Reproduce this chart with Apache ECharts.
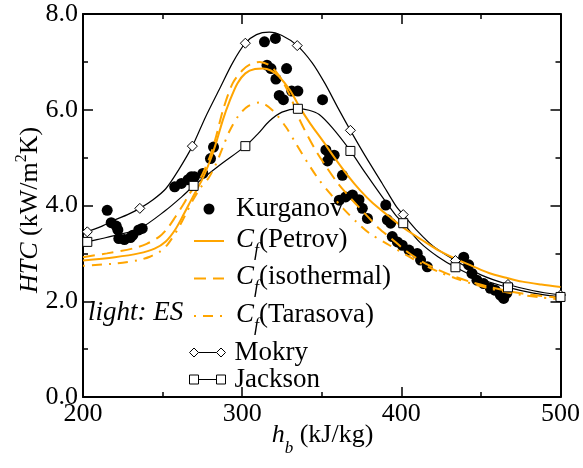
<!DOCTYPE html>
<html>
<head>
<meta charset="utf-8">
<script src="https://cdn.jsdelivr.net/npm/echarts@6/dist/echarts.min.js"></script>
<style>
  html, body { margin: 0; padding: 0; background: #fff; }
  #chart { width: 583px; height: 468px; }
</style>
</head>
<body>
<div id="chart"></div>
<script>
// measured points, x = h_b (kJ/kg), y = HTC (kW/m2K)
var kurganov = [
  [215.2, 3.90], [217.7, 3.64], [220.9, 3.57], [221.9, 3.49], [222.5, 3.31], [226, 3.29],
  [229.8, 3.33], [231.3, 3.38], [235, 3.49], [237.2, 3.52],
  [257.6, 4.39], [261.8, 4.46], [266, 4.54], [268, 4.60], [270, 4.60], [275.3, 4.67],
  [280.1, 4.98], [282, 5.22],
  [314, 7.42], [320.9, 7.49], [315.6, 6.93], [318.1, 6.86], [327.9, 6.86], [321.2, 6.64],
  [323.3, 6.30], [325.9, 6.21], [331.1, 6.39], [335, 6.39], [350.5, 6.21],
  [352.6, 5.16], [355, 5.04], [357.8, 5.05], [353.6, 4.93], [363, 4.63], [361, 4.11],
  [365, 4.18], [369.3, 4.22], [373.4, 4.12], [375.5, 3.94], [378.7, 3.73], [390.2, 4.01],
  [391.2, 3.70], [393.3, 3.63], [394.3, 3.35], [397.5, 3.24], [400.6, 3.17], [404.8, 3.07],
  [410, 3.00], [412.1, 2.86], [416.3, 2.72],
  [439.2, 2.92], [442.3, 2.76], [444.4, 2.58], [447.5, 2.44], [451.7, 2.37], [455.9, 2.27],
  [459, 2.23], [462.2, 2.13], [464.3, 2.06], [466.3, 2.17]
];

var petrov = [
  [200, 2.85], [220, 2.92], [235, 3.00], [245, 3.10], [252, 3.25], [258, 3.50], [263, 3.80],
  [269, 4.18], [275, 4.55], [280, 4.95], [284, 5.35], [288, 5.80], [292, 6.17], [297, 6.55],
  [302, 6.76], [308, 6.85], [313, 6.86], [318, 6.82], [323, 6.70], [330, 6.41], [336, 6.06],
  [343, 5.70], [350, 5.38], [358, 5.00], [366, 4.64], [374, 4.32], [382, 4.05], [392, 3.78],
  [402, 3.52], [413, 3.28], [423, 3.07], [434, 2.89], [445, 2.73], [455, 2.59], [466, 2.49],
  [476, 2.41], [488, 2.35], [500, 2.30]
];

var isothermal = [
  [200, 2.92], [215, 3.00], [231, 3.10], [240, 3.20], [248, 3.35], [253, 3.52], [258, 3.76],
  [263, 4.02], [267, 4.25], [271, 4.42], [275, 4.65], [279.5, 5.00], [283.7, 5.45], [288, 6.00],
  [294, 6.55], [300, 6.82], [305, 6.95], [311, 7.00], [317, 6.93], [323, 6.72], [330, 6.30],
  [336, 5.80], [345, 5.22], [352, 4.85], [360, 4.47], [369, 4.12], [378, 3.80], [386, 3.52],
  [393, 3.33], [403, 3.05], [413, 2.83], [423, 2.66], [434, 2.51], [445, 2.39], [455, 2.30],
  [466, 2.22], [476, 2.16], [488, 2.11], [500, 2.07]
];

var tarasova = [
  [200, 2.74], [221, 2.79], [235, 2.86], [242, 2.93], [248, 3.03], [252, 3.14], [256, 3.32],
  [260.5, 3.56], [265, 3.85], [269, 4.11], [274, 4.38], [279, 4.58], [284, 4.90], [288, 5.23],
  [292, 5.55], [298, 5.89], [304, 6.08], [311, 6.15], [319, 5.99], [327.5, 5.64], [334, 5.28],
  [341, 4.90], [348, 4.55], [356, 4.22], [364, 3.92], [372, 3.65], [380, 3.42], [392, 3.18],
  [403, 2.97], [413, 2.78], [423, 2.62], [434, 2.48], [445, 2.36], [455, 2.27], [466, 2.19],
  [476, 2.13], [488, 2.08], [500, 2.04]
];

var mokry = [
  [200, 3.40], [202.7, 3.45], [212, 3.57], [220, 3.70], [228, 3.81], [235.7, 3.94], [244, 4.12],
  [252, 4.35], [260, 4.74], [268.7, 5.24], [277, 5.85], [286, 6.45], [294, 6.98], [302, 7.39],
  [309, 7.57], [317, 7.62], [325, 7.55], [334.6, 7.34], [344, 6.98], [352, 6.55], [360, 6.05],
  [368, 5.57], [377.6, 5.02], [388, 4.46], [397, 3.97], [401.2, 3.81], [410, 3.47], [420, 3.15],
  [434, 2.85], [450, 2.55], [467, 2.35], [483, 2.22], [500, 2.13]
];
var mokryMarks = [
  [202.7, 3.45], [235.7, 3.94], [268.7, 5.24], [302, 7.39], [334.6, 7.34],
  [368, 5.57], [401.2, 3.81], [434, 2.85], [467, 2.35], [500, 2.13]
];

var jackson = [
  [200, 3.20], [202.7, 3.24], [212, 3.31], [220.9, 3.38], [235.7, 3.52], [252, 3.90], [262, 4.18],
  [269.5, 4.41], [285, 4.82], [302, 5.24], [310, 5.50], [317, 5.76], [325, 5.95], [335, 6.02],
  [342, 5.99], [348.4, 5.90], [356.7, 5.62], [368, 5.14], [377.6, 4.67], [388, 4.18],
  [396.4, 3.80], [401.2, 3.63], [412, 3.22], [423, 2.93], [434, 2.71], [450, 2.46],
  [467, 2.29], [483, 2.17], [500, 2.09]
];
var jacksonMarks = [
  [202.7, 3.24], [269.5, 4.41], [302, 5.24], [335, 6.02],
  [368, 5.14], [401.2, 3.63], [434, 2.71], [467, 2.29], [500, 2.09]
];

var ORANGE = "#FFA500";
var FONT = "Liberation Serif";
var FS = 27;

var chart = echarts.init(document.getElementById("chart"));

function axisCommon() {
  return {
    axisLine: { show: true, onZero: false, lineStyle: { color: "#000", width: 2 } },
    axisTick: { show: true, inside: true, length: 10, lineStyle: { color: "#000", width: 1.5 } },
    minorTick: { show: true, splitNumber: 2, length: 5, lineStyle: { color: "#000", width: 1.5 } },
    splitLine: { show: false },
    minorSplitLine: { show: false }
  };
}

// tick labels go through a rich token so the serif face is kept
var tickRich = { a: { fontFamily: FONT, fontSize: 26, color: "#000" } };

var xBottom = Object.assign(axisCommon(), {
  type: "value", position: "bottom", min: 200, max: 500, interval: 100,
  axisLabel: {
    color: "#000", fontFamily: FONT, fontSize: 26, margin: 4, rich: tickRich,
    formatter: function (v) { return "{a|" + v + "}"; }
  }
});
var xTop = Object.assign(axisCommon(), {
  type: "value", position: "top", min: 200, max: 500, interval: 100,
  axisLabel: { show: false }
});
var yLeft = Object.assign(axisCommon(), {
  type: "value", position: "left", min: 0, max: 8, interval: 2,
  axisLabel: {
    color: "#000", fontFamily: FONT, fontSize: 26, margin: 5, rich: tickRich,
    formatter: function (v) { return "{a|" + v.toFixed(1) + "}"; }
  }
});
var yRight = Object.assign(axisCommon(), {
  type: "value", position: "right", min: 0, max: 8, interval: 2,
  axisLabel: { show: false }
});

function curve(name, data, color, width, type, z) {
  return {
    name: name, type: "line", data: data, smooth: 0.3, symbol: "none",
    lineStyle: { color: color, width: width, type: type },
    itemStyle: { color: color },
    z: z
  };
}

function marks(name, data, symbol, size) {
  return {
    name: name, type: "scatter", data: data, symbol: symbol, symbolSize: size,
    itemStyle: { color: "#fff", borderColor: "#000", borderWidth: 1, opacity: 1 },
    z: 6
  };
}

// hides the little symbol that line series put in the middle of their legend icon
var noDot = { opacity: 0 };

var option = {
  animation: false,
  backgroundColor: "#fff",
  grid: { left: 83, right: 21, top: 14, bottom: 71 },
  xAxis: [xBottom, xTop],
  yAxis: [yLeft, yRight],
  legend: [
    {
      orient: "vertical", left: 193, top: 195.5, padding: 0, itemWidth: 30, itemHeight: 11,
      itemGap: 3.5, selectedMode: false,
      data: [
        {
          name: "Kurganov",
          icon: "path://M0,5A5,5 0 1 1 10,5A5,5 0 1 1 0,5Z",
          itemStyle: { color: "#000", borderWidth: 0, opacity: 1 }
        },
        { name: "C_f(Petrov)", itemStyle: noDot },
        { name: "C_f(isothermal)", itemStyle: noDot },
        { name: "C_f(Tarasova)", itemStyle: noDot }
      ],
      formatter: function (name) {
        if (name.indexOf("C_f") === 0) {
          return "{c|C}{f|f}{t|" + name.slice(3) + "}";
        }
        return "{k|" + name + "}";
      },
      textStyle: {
        color: "#000", fontFamily: FONT, fontSize: FS,
        rich: {
          k: { fontSize: FS, lineHeight: 25, padding: [0, 0, 0, 7], fontFamily: FONT },
          c: { fontStyle: "italic", fontSize: FS, lineHeight: 30, verticalAlign: "top", padding: [0, 0, 0, 7], fontFamily: FONT },
          f: { fontStyle: "italic", fontSize: 18, lineHeight: 18, verticalAlign: "top", padding: [16, 0, 0, 0], fontFamily: FONT },
          t: { fontSize: FS, lineHeight: 30, verticalAlign: "top", fontFamily: FONT }
        }
      }
    },
    {
      orient: "vertical", left: 189, top: 339, padding: 0, itemWidth: 36, itemHeight: 9,
      itemGap: 0, selectedMode: false,
      data: [
        {
          name: "Mokry",
          icon: "path://M0,5L5,0L10,5L5,10ZM10,5L30,5M30,5L35,0L40,5L35,10Z",
          itemStyle: { color: "#fff", borderColor: "#000", borderWidth: 1, opacity: 1 }
        },
        {
          name: "Jackson",
          icon: "path://M0,0L10,0L10,10L0,10ZM10,5L30,5M30,0L40,0L40,10L30,10Z",
          itemStyle: { color: "#fff", borderColor: "#000", borderWidth: 1, opacity: 1 }
        }
      ],
      formatter: function (name) { return "{m|" + name + "}"; },
      textStyle: {
        color: "#000", fontFamily: FONT, fontSize: FS,
        rich: { m: { fontSize: FS, lineHeight: 25, padding: [0, 0, 0, 4], fontFamily: FONT } }
      }
    }
  ],
  graphic: [
    {
      type: "text", left: 88, top: 299,
      style: { text: "light: ES", fontFamily: FONT, fontStyle: "italic", fontSize: FS, fill: "#000" }
    },
    {
      // x axis title
      type: "text", x: 322.5, y: 422,
      style: {
        text: "{i|h}{b|b}{n| (kJ/kg)}", align: "center", verticalAlign: "top", fill: "#000",
        fontFamily: FONT, fontSize: 26,
        rich: {
          i: { fontStyle: "italic", fontSize: 26, lineHeight: 30, verticalAlign: "top", fontFamily: FONT },
          b: { fontStyle: "italic", fontSize: 17, lineHeight: 17, verticalAlign: "top", padding: [18, 0, 0, 0], fontFamily: FONT },
          n: { fontSize: 26, lineHeight: 30, verticalAlign: "top", fontFamily: FONT }
        }
      }
    },
    {
      // y axis title
      type: "text", x: 29, y: 210, rotation: Math.PI / 2,
      style: {
        text: "{i|HTC}{n| (kW/m}{s|2}{n|K)}", align: "center", verticalAlign: "middle", fill: "#000",
        fontFamily: FONT, fontSize: 26,
        rich: {
          i: { fontStyle: "italic", fontSize: 26, lineHeight: 30, verticalAlign: "top", padding: [3, 0, 0, 0], fontFamily: FONT },
          n: { fontSize: 26, lineHeight: 30, verticalAlign: "top", padding: [3, 0, 0, 0], fontFamily: FONT },
          s: { fontSize: 16, lineHeight: 16, verticalAlign: "top", fontFamily: FONT }
        }
      }
    }
  ],
  series: [
    curve("Mokry", mokry, "#000", 1.2, "solid", 2),
    curve("Jackson", jackson, "#000", 1.2, "solid", 2),
    {
      name: "Kurganov", type: "scatter", data: kurganov, symbol: "circle", symbolSize: 11,
      itemStyle: { color: "#000", opacity: 1 }, z: 3
    },
    curve("C_f(Petrov)", petrov, ORANGE, 2, "solid", 4),
    curve("C_f(isothermal)", isothermal, ORANGE, 2, [12, 7], 4),
    curve("C_f(Tarasova)", tarasova, ORANGE, 2, [2, 7, 10, 7], 4),
    marks("Mokry", mokryMarks, "diamond", 10),
    marks("Jackson", jacksonMarks, "rect", 9)
  ]
};

chart.setOption(option);

window.addEventListener("resize", function () {
  chart.resize();
});
</script>
</body>
</html>
